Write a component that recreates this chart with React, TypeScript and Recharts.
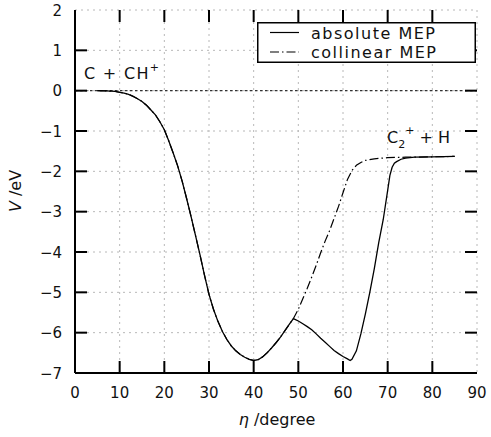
import React from "react";
import {
  LineChart,
  Line,
  XAxis,
  YAxis,
  CartesianGrid,
  ReferenceLine,
  Legend,
} from "recharts";

// Shared part of both minimum-energy paths (they coincide up to the first peak)
const sharedEta = [5, 7, 9, 10, 11, 12, 13, 14, 15, 16, 17, 18, 19, 20, 21, 22, 23, 24, 25, 26, 27, 28, 29, 30, 31, 32, 33, 34, 35, 36, 37, 38, 39, 40, 41, 42, 43, 44, 45, 46, 47, 48, 48.9];
const sharedV = [0, -0.005, -0.02, -0.04, -0.06, -0.09, -0.14, -0.2, -0.27, -0.36, -0.48, -0.6, -0.77, -0.97, -1.25, -1.55, -1.87, -2.25, -2.68, -3.13, -3.6, -4.08, -4.58, -5.05, -5.42, -5.72, -5.97, -6.17, -6.33, -6.45, -6.54, -6.61, -6.66, -6.69, -6.67, -6.6, -6.5, -6.38, -6.25, -6.11, -5.95, -5.79, -5.65];

// Absolute MEP after the first peak
const absoluteEta = [50, 51, 52, 53, 54, 55, 56, 57, 58, 59, 60, 61, 61.6, 62, 63, 64, 65, 66, 67, 68, 69, 70, 70.5, 71, 71.5, 72, 73, 74, 76, 80, 85];
const absoluteV = [-5.71, -5.78, -5.85, -5.93, -6.03, -6.14, -6.24, -6.34, -6.44, -6.52, -6.59, -6.65, -6.69, -6.66, -6.45, -6.03, -5.54, -5.0, -4.42, -3.77, -3.2, -2.47, -2.1, -1.9, -1.8, -1.76, -1.7, -1.67, -1.65, -1.64, -1.63];

// Collinear MEP after the first peak
const collinearEta = [50, 51, 52, 53, 54, 55, 56, 57, 58, 59, 60, 61, 62, 63, 64, 65, 67, 70, 74, 76, 80, 85];
const collinearV = [-5.42, -5.16, -4.9, -4.62, -4.33, -4.02, -3.73, -3.47, -3.17, -2.87, -2.53, -2.2, -1.98, -1.85, -1.78, -1.73, -1.69, -1.66, -1.65, -1.65, -1.64, -1.63];

const xTicks = [0, 10, 20, 30, 40, 50, 60, 70, 80, 90];
const yTicks = [-7, -6, -5, -4, -3, -2, -1, 0, 1, 2];
const xDomain: [number, number] = [0, 90];
const yDomain: [number, number] = [-7, 2];

const seriesNames = ["absolute MEP", "collinear MEP"];

const build = (xs: number[], ys: number[]) => xs.map((x, i) => ({ eta: x, v: ys[i] }));
const absoluteData = build([...sharedEta, ...absoluteEta], [...sharedV, ...absoluteV]);
const collinearData = build([...sharedEta, ...collinearEta], [...sharedV, ...collinearV]);

const FONT = "'DejaVu Sans', 'Liberation Sans', sans-serif";
const fmt = (v: number) => (v < 0 ? "\u2212" + Math.abs(v) : String(v));

// layout of the plot frame
const W = 491;
const H = 437;
const MARGIN = { top: 10, right: 14, left: 0, bottom: 0 };
const YAXIS_W = 75;
const XAXIS_H = 64;
const PLOT_L = MARGIN.left + YAXIS_W;
const PLOT_T = MARGIN.top;
const PLOT_W = W - MARGIN.left - MARGIN.right - YAXIS_W;
const PLOT_H = H - MARGIN.top - MARGIN.bottom - XAXIS_H;
const TICK = 12; // inward tick length
const sx = (t: number) => PLOT_L + ((t - xDomain[0]) / (xDomain[1] - xDomain[0])) * PLOT_W;
const sy = (t: number) => PLOT_T + ((yDomain[1] - t) / (yDomain[1] - yDomain[0])) * PLOT_H;
const innerX = xTicks.filter((t) => t > xDomain[0] && t < xDomain[1]);
const innerY = yTicks.filter((t) => t > yDomain[0] && t < yDomain[1]);

const BottomTick = (props: any) => {
  const { x, y, payload } = props;
  return (
    <text x={x} y={y + 25} textAnchor="middle" fontSize={15} fontFamily={FONT} fill="#111">
      {fmt(payload.value)}
    </text>
  );
};
const LeftTick = (props: any) => {
  const { x, y, payload } = props;
  return (
    <text x={x - 13} y={y + 5.5} textAnchor="end" fontSize={15} fontFamily={FONT} fill="#111">
      {fmt(payload.value)}
    </text>
  );
};

const LegendBox = () => (
  <svg width={219} height={41} style={{ display: "block" }}>
    <rect x={0.75} y={0.75} width={217.5} height={39.5} fill="#fff" stroke="#000" strokeWidth={1.5} />
    <line x1={13} y1={10.5} x2={42} y2={10.5} stroke="#000" strokeWidth={1.2} />
    <text x={54} y={16.5} fontSize={16} fontFamily={FONT} letterSpacing={1.5} fill="#111">
      {seriesNames[0]}
    </text>
    <line x1={13} y1={30} x2={42} y2={30} stroke="#000" strokeWidth={1.2} strokeDasharray="9 3 1.5 3" />
    <text x={54} y={35.5} fontSize={16} fontFamily={FONT} letterSpacing={1.5} fill="#111">
      {seriesNames[1]}
    </text>
  </svg>
);

const frame = { stroke: "#000", strokeWidth: 2 };

// inward tick marks on all four sides of the frame
const TickOverlay = () => (
  <svg
    width={W}
    height={H}
    style={{ position: "absolute", left: 0, top: 0, pointerEvents: "none", zIndex: 1 }}
  >
    {innerX.map((t) => (
      <g key={"x" + t}>
        <line x1={sx(t)} y1={PLOT_T + PLOT_H} x2={sx(t)} y2={PLOT_T + PLOT_H - TICK} stroke="#000" strokeWidth={2} />
        <line x1={sx(t)} y1={PLOT_T} x2={sx(t)} y2={PLOT_T + TICK} stroke="#000" strokeWidth={2} />
      </g>
    ))}
    {innerY.map((t) => (
      <g key={"y" + t}>
        <line x1={PLOT_L} y1={sy(t)} x2={PLOT_L + TICK} y2={sy(t)} stroke="#000" strokeWidth={2} />
        <line x1={PLOT_L + PLOT_W} y1={sy(t)} x2={PLOT_L + PLOT_W - TICK} y2={sy(t)} stroke="#000" strokeWidth={2} />
      </g>
    ))}
  </svg>
);

export default function App() {
  return (
    <div style={{ position: "absolute", left: 0, top: 0, width: W, height: H, background: "#fff" }}>
      <LineChart width={W} height={H} margin={MARGIN}>
        <CartesianGrid stroke="#b8b8b8" strokeDasharray="2 4" strokeWidth={1} />
        <XAxis
          dataKey="eta"
          type="number"
          domain={xDomain}
          ticks={xTicks}
          interval={0}
          height={XAXIS_H}
          tickSize={0}
          tickMargin={0}
          tickLine={false}
          axisLine={frame}
          tick={(p: any) => <BottomTick {...p} />}
          allowDataOverflow
        />
        <XAxis
          xAxisId="top"
          orientation="top"
          dataKey="eta"
          type="number"
          domain={xDomain}
          ticks={xTicks}
          height={0}
          tickLine={false}
          tick={false}
          axisLine={frame}
        />
        <YAxis
          type="number"
          domain={yDomain}
          ticks={yTicks}
          interval={0}
          width={YAXIS_W}
          tickSize={0}
          tickMargin={0}
          tickLine={false}
          axisLine={frame}
          tick={(p: any) => <LeftTick {...p} />}
          allowDataOverflow
        />
        <YAxis
          yAxisId="right"
          orientation="right"
          type="number"
          domain={yDomain}
          ticks={yTicks}
          width={0}
          tickLine={false}
          tick={false}
          axisLine={frame}
        />
        <ReferenceLine y={0} stroke="#333" strokeDasharray="2.5 2.5" strokeWidth={1.2} />
        <Line
          data={collinearData}
          dataKey="v"
          name={seriesNames[1]}
          type="linear"
          stroke="#000"
          strokeWidth={1.2}
          strokeDasharray="9 3 1.5 3"
          dot={false}
          isAnimationActive={false}
        />
        <Line
          data={absoluteData}
          dataKey="v"
          name={seriesNames[0]}
          type="linear"
          stroke="#000"
          strokeWidth={1.3}
          dot={false}
          isAnimationActive={false}
        />
        <Legend
          layout="vertical"
          align="center"
          verticalAlign="middle"
          content={() => <LegendBox />}
          wrapperStyle={{ position: "absolute", left: 257, top: 22, width: 219, height: 41, zIndex: 2 }}
        />
        <text x={84} y={79} fontSize={16} fontFamily={FONT} letterSpacing={1.3} fill="#111">
          C + CH<tspan fontSize={11} dy={-8}>+</tspan>
        </text>
        <text x={387} y={143} fontSize={16} fontFamily={FONT} fill="#111">
          C<tspan fontSize={11} dy={5}>2</tspan>
          <tspan fontSize={11} dy={-14}>+</tspan>
          <tspan fontSize={16} dy={9}> + H</tspan>
        </text>
        <text transform="translate(21,191) rotate(-90)" textAnchor="middle" fontSize={16} fontFamily={FONT} fill="#111">
          <tspan fontStyle="italic">V</tspan> /eV
        </text>
        <text x={277} y={425} textAnchor="middle" fontSize={16} fontFamily={FONT} fill="#111">
          <tspan fontStyle="italic">η</tspan> /degree
        </text>
      </LineChart>
      <TickOverlay />
    </div>
  );
}
